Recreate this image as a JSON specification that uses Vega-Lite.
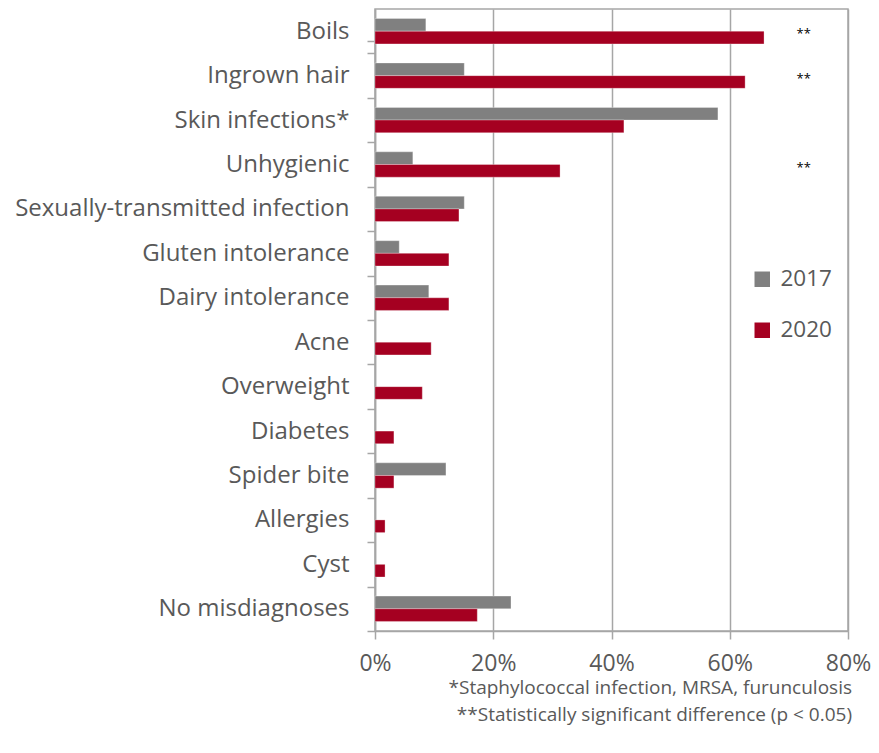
{
  "$schema": "https://vega.github.io/schema/vega-lite/v6.json",
  "width": 473,
  "height": 622,
  "autosize": {"type": "none"},
  "padding": {"left": 375, "top": 9, "right": 31, "bottom": 122},
  "background": "white",
  "config": {
    "font": "Open Sans",
    "view": {"stroke": "#a6a6a6", "strokeWidth": 1.5}
  },
  "title": {
    "text": ["*Staphylococcal infection, MRSA, furunculosis", "**Statistically significant difference (p < 0.05)"],
    "orient": "bottom",
    "anchor": "end",
    "frame": "group",
    "align": "right",
    "fontSize": 19,
    "fontWeight": "normal",
    "color": "#595959",
    "lineHeight": 27,
    "offset": 4,
    "dx": 4
  },
  "datasets": {
    "bars": [
      {"cause": "Boils", "year": "2017", "pct": 8.6},
      {"cause": "Boils", "year": "2020", "pct": 65.8},
      {"cause": "Ingrown hair", "year": "2017", "pct": 15.1},
      {"cause": "Ingrown hair", "year": "2020", "pct": 62.6},
      {"cause": "Skin infections*", "year": "2017", "pct": 58.0},
      {"cause": "Skin infections*", "year": "2020", "pct": 42.1},
      {"cause": "Unhygienic", "year": "2017", "pct": 6.4},
      {"cause": "Unhygienic", "year": "2020", "pct": 31.3},
      {"cause": "Sexually-transmitted infection", "year": "2017", "pct": 15.1},
      {"cause": "Sexually-transmitted infection", "year": "2020", "pct": 14.2},
      {"cause": "Gluten intolerance", "year": "2017", "pct": 4.1},
      {"cause": "Gluten intolerance", "year": "2020", "pct": 12.5},
      {"cause": "Dairy intolerance", "year": "2017", "pct": 9.1},
      {"cause": "Dairy intolerance", "year": "2020", "pct": 12.5},
      {"cause": "Acne", "year": "2020", "pct": 9.5},
      {"cause": "Overweight", "year": "2020", "pct": 8.0},
      {"cause": "Diabetes", "year": "2020", "pct": 3.2},
      {"cause": "Spider bite", "year": "2017", "pct": 12.0},
      {"cause": "Spider bite", "year": "2020", "pct": 3.2},
      {"cause": "Allergies", "year": "2020", "pct": 1.7},
      {"cause": "Cyst", "year": "2020", "pct": 1.7},
      {"cause": "No misdiagnoses", "year": "2017", "pct": 23.0},
      {"cause": "No misdiagnoses", "year": "2020", "pct": 17.3}
    ],
    "sig": [
      {"cause": "Boils", "mark": "**", "pos": 72.5},
      {"cause": "Ingrown hair", "mark": "**", "pos": 72.5},
      {"cause": "Unhygienic", "mark": "**", "pos": 72.5}
    ]
  },
  "encoding": {
    "y": {
      "field": "cause",
      "type": "nominal",
      "sort": ["Boils", "Ingrown hair", "Skin infections*", "Unhygienic", "Sexually-transmitted infection", "Gluten intolerance", "Dairy intolerance", "Acne", "Overweight", "Diabetes", "Spider bite", "Allergies", "Cyst", "No misdiagnoses"],
      "scale": {"paddingInner": 0.43, "paddingOuter": 0.215},
      "axis": {
        "title": null,
        "labelFontSize": 24,
        "labelColor": "#595959",
        "labelPadding": 18,
        "labelLimit": 400,
        "ticks": true,
        "tickSize": 8,
        "tickColor": "#a6a6a6",
        "tickWidth": 1.5,
        "tickOffset": 22.21,
        "labelOffset": -22.21,
        "tickExtra": true,
        "domainColor": "#a6a6a6",
        "domainWidth": 1.5,
        "grid": false
      }
    }
  },
  "layer": [
    {
      "data": {"name": "bars"},
      "mark": {"type": "bar", "stroke": "white", "strokeWidth": 0.5, "strokeOpacity": 0.6},
      "encoding": {
        "yOffset": {"field": "year", "type": "nominal", "scale": {"domain": ["2017", "2020"], "paddingInner": 0, "paddingOuter": 0}},
        "x": {
          "field": "pct",
          "type": "quantitative",
          "scale": {"domain": [0, 80], "nice": false},
          "axis": {
            "title": null,
            "values": [0, 20, 40, 60, 80],
            "labelExpr": "datum.value + '%'",
            "labelFontSize": 23,
            "labelFlush": false,
            "labelColor": "#595959",
            "labelPadding": 13,
            "tickSize": 8,
            "tickColor": "#a6a6a6",
            "tickWidth": 1.5,
            "domainColor": "#a6a6a6",
            "domainWidth": 1.5,
            "grid": true,
            "gridColor": "#a6a6a6",
            "gridWidth": 1.5
          }
        },
        "color": {
          "field": "year",
          "type": "nominal",
          "scale": {"domain": ["2017", "2020"], "range": ["#808080", "#a50021"]},
          "legend": {
            "title": null,
            "orient": "none",
            "legendX": 376,
            "legendY": 259,
            "symbolType": "square",
            "symbolSize": 240,
            "symbolStrokeWidth": 0,
            "labelFontSize": 22.5,
            "labelColor": "#595959",
            "labelOffset": 7,
            "rowPadding": 28
          }
        }
      }
    },
    {
      "data": {"name": "sig"},
      "mark": {"type": "text", "fontSize": 13, "color": "#000000", "baseline": "middle", "dy": 3},
      "encoding": {
        "x": {"field": "pos", "type": "quantitative"},
        "text": {"field": "mark"}
      }
    }
  ]
}
